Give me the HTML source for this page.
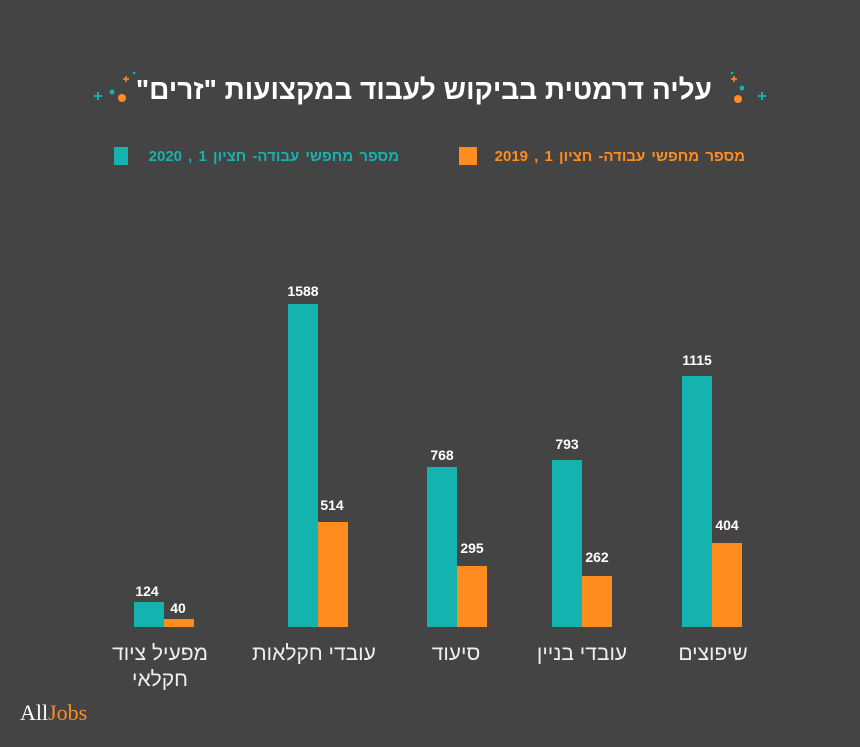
<!DOCTYPE html>
<html><head><meta charset="utf-8"><style>
body{margin:0;background:#444444;width:860px;height:747px;position:relative;overflow:hidden}
svg{display:block;position:absolute;left:0;top:0}
.t{position:absolute;font-family:"Liberation Sans","Noto Sans CJK SC",sans-serif;white-space:nowrap;direction:rtl}
</style></head><body>
<svg width="860" height="747" xmlns="http://www.w3.org/2000/svg">
<rect width="860" height="747" fill="#444444"/>
<g fill="#14b3b0"><circle cx="112" cy="92" r="2.5"/><circle cx="742" cy="88" r="2.5"/><circle cx="134" cy="73" r="1.3"/><circle cx="732" cy="73" r="1.3"/></g>
<g fill="#ff8c1f"><circle cx="122" cy="98" r="4"/><circle cx="738" cy="99" r="4"/></g>
<g stroke="#14b3b0" stroke-width="2"><path d="M94 96h8M98 92v8M758 96h8M762 92v8"/></g>
<g stroke="#ff8c1f" stroke-width="1.5"><path d="M123 79h6M126 76v6M731 79h6M734 76v6"/></g>
<rect x="114" y="147" width="14" height="18" fill="#14b3b0"/>
<rect x="459" y="147" width="18" height="18" fill="#ff8c1f"/>
<g fill="#14b3b0">
<rect x="134" y="602" width="30" height="25"/>
<rect x="288" y="304" width="30" height="323"/>
<rect x="427" y="467" width="30" height="160"/>
<rect x="552" y="460" width="30" height="167"/>
<rect x="682" y="376" width="30" height="251"/>
</g>
<g fill="#ff8c1f">
<rect x="164" y="619" width="30" height="8"/>
<rect x="318" y="522" width="30" height="105"/>
<rect x="457" y="566" width="30" height="61"/>
<rect x="582" y="576" width="30" height="51"/>
<rect x="712" y="543" width="30" height="84"/>
</g>
<g font-family="Liberation Sans,sans-serif" font-size="14" font-weight="bold" fill="#ffffff" text-anchor="middle">
<text x="147" y="596">124</text><text x="178" y="613">40</text>
<text x="303" y="296">1588</text><text x="332" y="510">514</text>
<text x="442" y="460">768</text><text x="472" y="553">295</text>
<text x="567" y="449">793</text><text x="597" y="562">262</text>
<text x="697" y="365">1115</text><text x="727" y="530">404</text>
</g>
<text x="20" y="720" font-family="Liberation Serif,serif" font-size="22" fill="#ffffff">All<tspan fill="#ff8c1f">Jobs</tspan></text>
</svg>
<div class="t" style="right:148px;top:74px;font-size:28px;font-weight:bold;color:#fff">עליה דרמטית בביקוש לעבוד במקצועות "זרים"</div>
<div class="t" style="right:461px;top:148px;font-size:15px;font-weight:bold;word-spacing:2px;color:#14b3b0">מספר מחפשי  עבודה- חציון 1 , 2020</div>
<div class="t" style="right:115px;top:148px;font-size:15px;font-weight:bold;word-spacing:2px;color:#ff8c1f">מספר מחפשי  עבודה- חציון 1 , 2019</div>
<div class="t" style="left:100px;width:120px;text-align:center;top:641px;font-size:21px;line-height:26px;color:#eee">מפעיל ציוד<br>חקלאי</div>
<div class="t" style="left:234px;width:160px;text-align:center;top:641px;font-size:21px;line-height:26px;color:#eee">עובדי חקלאות</div>
<div class="t" style="left:396px;width:120px;text-align:center;top:641px;font-size:21px;line-height:26px;color:#eee">סיעוד</div>
<div class="t" style="left:512px;width:140px;text-align:center;top:641px;font-size:21px;line-height:26px;color:#eee">עובדי בניין</div>
<div class="t" style="left:653px;width:120px;text-align:center;top:641px;font-size:21px;line-height:26px;color:#eee">שיפוצים</div>
</body></html>
